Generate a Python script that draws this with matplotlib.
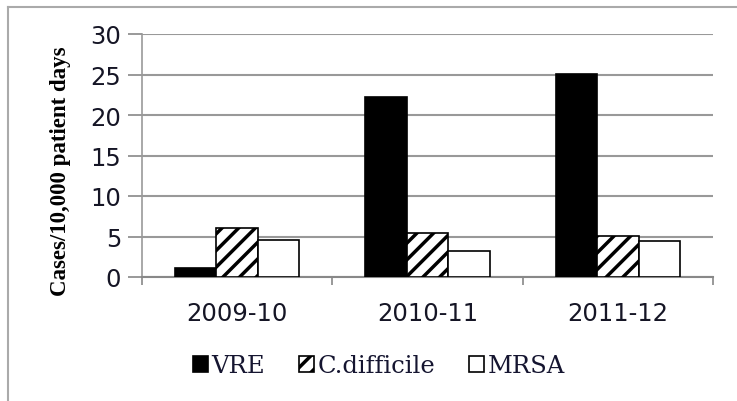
import numpy as np
import matplotlib.pyplot as plt
from matplotlib.lines import Line2D

years = ['2009-10', '2010-11', '2011-12']
vre = [1.1, 22.2, 25.1]
cdiff = [6.0, 5.4, 5.1]
mrsa = [4.6, 3.2, 4.4]

plt.rcParams['hatch.linewidth'] = 2.5

fig = plt.figure(figsize=(7.37, 4.02), dpi=100)
ax = fig.add_axes([142/737, 1 - 278/402, (713 - 142)/737, (278 - 35)/402])

x = np.arange(len(years))
w = 0.218
ax.bar(x - w, vre, w, color='black', edgecolor='black', linewidth=1.2, label='VRE', zorder=3)
ax.bar(x, cdiff, w, color='white', edgecolor='black', hatch='//', linewidth=1.2,
       label='C.difficile', zorder=3)
ax.bar(x + w, mrsa, w, color='white', edgecolor='black', linewidth=1.2, label='MRSA', zorder=3)

ax.set_xlim(-0.5, 2.5)
ax.set_ylim(0, 30)
ax.set_yticks(range(0, 31, 5))
ax.set_xticks(x)
ax.set_xticklabels(years)
ax.set_xticks([-0.5, 0.5, 1.5, 2.5], minor=True)
ax.tick_params(axis='x', which='major', length=0, pad=17, labelsize=17.5)
ax.tick_params(axis='x', which='minor', length=6, color='#888888', width=1.2)
ax.tick_params(axis='y', length=10, color='#888888', width=1.2, labelsize=17.5, pad=5)
for lab in ax.get_xticklabels() + ax.get_yticklabels():
    lab.set_color('#151525')

ax.grid(axis='y', color='#999999', linewidth=1.5, zorder=0)
for s in ['top', 'right']:
    ax.spines[s].set_visible(False)
ax.spines['left'].set_color('#999999')
ax.spines['bottom'].set_color('#888888')
ax.spines['left'].set_linewidth(1.2)
ax.spines['bottom'].set_linewidth(1.5)

ax.set_ylabel('Cases/10,000 patient days', family='Liberation Serif', fontweight='bold',
              fontsize=16.5)
ax.yaxis.set_label_coords(-0.125, 0.44)

fig.legend(loc='center', bbox_to_anchor=(379/737, 1 - 367/402), ncol=3, frameon=False,
           prop={'family': 'DejaVu Serif', 'size': 17.5}, handlelength=0.6, handleheight=0.6,
           handletextpad=0.15, columnspacing=1.4, labelcolor='#151530')

# outer chart frame
fig.add_artist(Line2D([8/737, 8/737], [0, 1 - 8/402], color='#aaaaaa', linewidth=1.5))
fig.add_artist(Line2D([8/737, 1], [1 - 8/402, 1 - 8/402], color='#aaaaaa', linewidth=1.5))

fig.savefig('out.png', dpi=100)
